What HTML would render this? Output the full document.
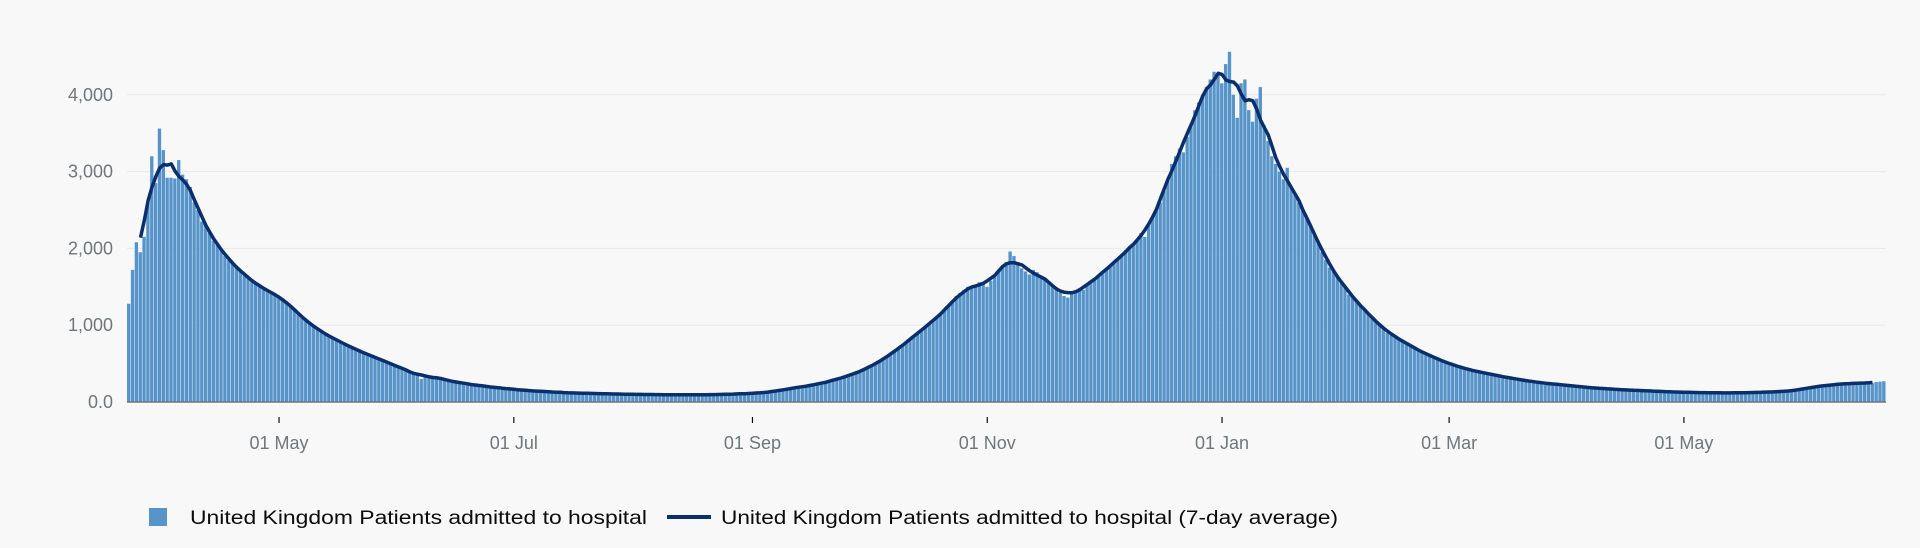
<!DOCTYPE html>
<html><head><meta charset="utf-8"><style>
html,body{margin:0;padding:0;background:#f8f8f8;}
svg{display:block;font-family:"Liberation Sans",sans-serif;}
</style></head><body>
<svg id="chart" width="1920" height="548" viewBox="0 0 1920 548">
<g id="grid"></g>
<g id="yaxis"></g>
<g id="bars"></g>
<path id="avgline" fill="none" stroke="#0b2f6b" stroke-width="3.5" stroke-linejoin="round"></path>
<line x1="127" x2="1886" y1="402" y2="402" stroke="#6f777b" stroke-width="1.5"/>
<g id="xaxis"></g>
<g>
 <g>
  <rect x="149" y="508" width="18" height="18" fill="#5694ca"/>
  <text x="190" y="524" font-size="19" fill="#0b0c0c" textLength="457" lengthAdjust="spacingAndGlyphs">United Kingdom Patients admitted to hospital</text>
 </g>
 <g>
  <line x1="667" x2="711" y1="517" y2="517" stroke="#0b2f6b" stroke-width="4"/>
  <text x="721" y="524" font-size="19" fill="#0b0c0c" textLength="617" lengthAdjust="spacingAndGlyphs">United Kingdom Patients admitted to hospital (7-day average)</text>
 </g>
</g>
</svg>
<script>
const yTicks=[0,1000,2000,3000,4000];
const yTickLabels=["0.0","1,000","2,000","3,000","4,000"];
const xTickDays=[39,100,162,223,284,343,404];
const xTickLabels=["01 May","01 Jul","01 Sep","01 Nov","01 Jan","01 Mar","01 May"];
const admissions=[
1280,1720,2080,1950,2150,2600,3200,2850,3560,3280,2920,
2920,2910,3150,2960,2900,2800,2600,2500,2350,2300,
2200,2100,2050,1980,1900,1850,1800,1760,1700,1650,
1620,1580,1540,1500,1470,1450,1420,1400,1380,1350,
1300,1250,1200,1150,1100,1060,1020,980,950,920,
880,860,830,800,780,760,740,700,680,660,
640,620,600,580,560,540,520,500,480,460,
430,410,400,380,360,300,330,350,340,320,
300,290,280,260,270,250,240,230,240,220,
210,200,210,195,190,185,180,175,170,165,
160,158,150,145,150,140,138,135,140,130,
125,128,120,118,122,115,112,118,115,110,
108,112,105,110,104,100,108,102,98,105,
100,96,102,98,95,100,94,98,96,92,
95,90,94,98,92,96,90,94,92,96,
98,94,100,96,102,100,105,103,108,106,
110,115,112,120,125,130,128,140,150,160,
170,175,185,190,200,210,220,215,230,245,
260,270,280,300,310,330,340,360,380,400,
420,440,470,500,530,560,590,620,660,700,
740,780,820,850,900,950,980,1020,1060,1100,
1150,1200,1250,1300,1380,1420,1460,1500,1480,1520,
1560,1550,1500,1580,1640,1700,1760,1820,1960,1900,
1820,1740,1700,1660,1720,1690,1640,1600,1550,1520,
1480,1420,1380,1360,1400,1450,1480,1460,1520,1560,
1600,1650,1700,1720,1780,1820,1850,1900,1980,2000,
2050,2100,2200,2150,2300,2400,2500,2600,2750,2900,
3100,3200,3300,3250,3450,3600,3800,3900,4000,4100,
4200,4300,4250,4150,4400,4560,4000,3700,4150,4200,
3800,3650,3950,4100,3600,3400,3200,3100,3000,2900,
3050,2800,2700,2600,2500,2400,2300,2200,2100,1950,
1850,1750,1700,1650,1550,1500,1400,1380,1300,1250,
1200,1150,1100,1050,1000,950,900,880,850,820,
800,760,720,700,680,650,630,600,580,560,
540,520,500,480,470,450,440,420,410,400,
390,380,370,360,350,340,330,320,310,300,
295,290,280,270,260,255,250,245,240,235,
230,225,220,215,210,205,200,195,190,185,
182,178,175,172,170,165,162,160,158,155,
152,150,148,146,144,142,140,138,136,134,
132,130,128,127,126,125,124,123,122,121,
120,120,119,119,118,118,118,120,120,122,
122,124,125,126,128,130,132,134,136,138,
140,145,150,160,170,180,190,200,205,210,
215,220,225,230,235,240,245,250,240,235,
250,255,245,260,265,270];

const NS="http://www.w3.org/2000/svg";
const X0=127,X1=1886,Y0=402,YTOP=94.8,VMAX=4000;
const n=admissions.length;
const step=(X1-X0)/n;
function xScale(d){return X0+d*step;}
function yScale(v){return Y0-(v/VMAX)*(Y0-YTOP);}
function mk(tag,attrs){const e=document.createElementNS(NS,tag);for(const k in attrs)e.setAttribute(k,attrs[k]);return e;}

const grid=document.getElementById('grid'),ya=document.getElementById('yaxis');
yTicks.forEach((t,i)=>{
  if(t>0){const g=mk('line',{x1:X0,x2:X1,y1:yScale(t),y2:yScale(t),stroke:'#e9e9e9','stroke-width':1});
  
  
  grid.appendChild(g);}
  const tx=mk('text',{x:113,y:yScale(t)+6,'text-anchor':'end','font-size':18,fill:'#6f777b'});
  tx.textContent=yTickLabels[i];
  
  
  ya.appendChild(tx);
});
const xa=document.getElementById('xaxis');
xTickDays.forEach((d,i)=>{
  const x=xScale(d+0.5);
  const tk=mk('line',{x1:x,x2:x,y1:417,y2:423,stroke:'#0b0c0c','stroke-width':1.2});
  
  
  xa.appendChild(tk);
  const tx=mk('text',{x:x,y:449,'text-anchor':'middle','font-size':18,fill:'#6f777b'});
  tx.textContent=xTickLabels[i];
  
  
  xa.appendChild(tx);
});
const bars=document.getElementById('bars');
admissions.forEach((v,i)=>{
  const y=yScale(v);
  const r=mk('rect',{x:xScale(i),y:y,width:Math.max(step-0.5,1),height:Y0-y,fill:'#5694ca'});
  
  
  bars.appendChild(r);
});
let pts=[];
for(let i=3;i<n-3;i++){
  let s=0;for(let k=-3;k<=3;k++)s+=admissions[i+k];
  pts.push((pts.length?'L':'M')+xScale(i+0.5).toFixed(1)+','+yScale(s/7).toFixed(1));
}
document.getElementById('avgline').setAttribute('d',pts.join(''));
</script>
</body></html>
